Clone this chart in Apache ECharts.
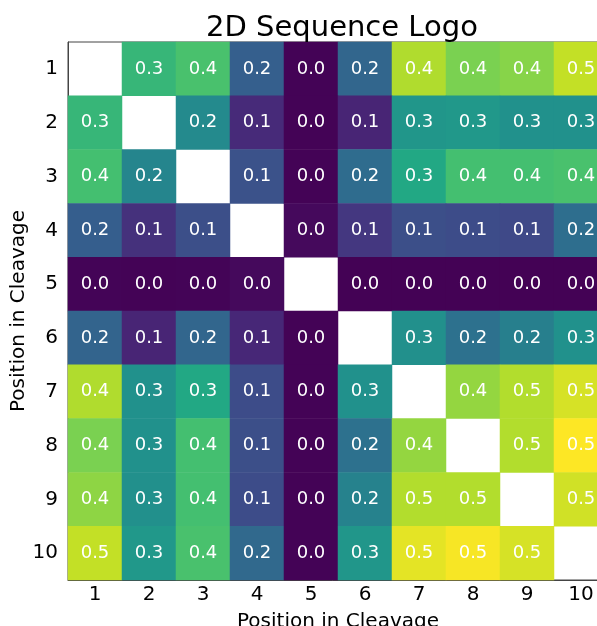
<!DOCTYPE html>
<html>
<head>
<meta charset="utf-8">
<script src="https://cdn.jsdelivr.net/npm/echarts@6/dist/echarts.min.js"></script>
<style>html,body{margin:0;padding:0;background:#fff;overflow:hidden;}#c{width:597px;height:626px;}</style>
</head>
<body>
<div id="c"></div>
<script>
const positions = ['1','2','3','4','5','6','7','8','9','10'];
// rows = y position (1..10), columns = x position (1..10); null = diagonal (empty)
const row1  = [null, 0.337, 0.362, 0.153, 0.003, 0.168, 0.449, 0.408, 0.418, 0.464];
const row2  = [0.337, null, 0.240, 0.061, 0.003, 0.052, 0.265, 0.270, 0.255, 0.255];
const row3  = [0.357, 0.230, null, 0.128, 0.003, 0.179, 0.306, 0.357, 0.357, 0.362];
const row4  = [0.152, 0.071, 0.122, null, 0.012, 0.082, 0.122, 0.117, 0.112, 0.184];
const row5  = [0.004, 0.003, 0.004, 0.012, null, 0.002, 0.001, 0.001, 0.001, 0.001];
const row6  = [0.163, 0.052, 0.168, 0.056, 0.003, null, 0.252, 0.189, 0.219, 0.255];
const row7  = [0.449, 0.255, 0.306, 0.117, 0.003, 0.255, null, 0.428, 0.451, 0.479];
const row8  = [0.408, 0.255, 0.357, 0.122, 0.003, 0.189, 0.428, null, 0.451, 0.510];
const row9  = [0.423, 0.252, 0.357, 0.117, 0.003, 0.224, 0.451, 0.451, null, 0.474];
const row10 = [0.464, 0.270, 0.362, 0.173, 0.003, 0.265, 0.490, 0.505, 0.479, null];
const rows = [row1,row2,row3,row4,row5,row6,row7,row8,row9,row10];

const viridis = ['#440154','#482475','#414487','#355f8d','#2a788e','#21918c','#22a884','#44bf70','#7ad151','#bddf26','#fde725'];

const data = [];
rows.forEach((r, yi) => r.forEach((v, xi) => { if (v !== null) data.push([xi, yi, v]); }));

const font = 'DejaVu Sans';
const chart = echarts.init(document.getElementById('c'));
chart.setOption({
  backgroundColor: '#fff',
  animation: false,
  title: {
    text: '2D Sequence Logo',
    left: 337, top: 9, textAlign: 'center',
    textStyle: { fontFamily: font, fontSize: 29, fontWeight: 'normal', color: '#000' }
  },
  grid: { left: 68, top: 42, width: 540, height: 538, outerBoundsMode: 'none', containLabel: false,
          show: true, borderColor: '#444', borderWidth: 1, backgroundColor: '#fff' },
  xAxis: {
    type: 'category', data: positions,
    name: 'Position in Cleavage', nameLocation: 'middle', nameGap: 32, nameMoveOverlap: false,
    nameTextStyle: { fontFamily: font, fontSize: 20, color: '#000' },
    axisLine: { lineStyle: { color: '#444' } },
    axisTick: { alignWithLabel: true, length: 5, lineStyle: { color: '#333' } },
    axisLabel: { fontFamily: font, fontSize: 20, color: '#000', margin: 5 },
    splitLine: { show: false }
  },
  yAxis: {
    type: 'category', data: positions, inverse: true,
    name: 'Position in Cleavage', nameLocation: 'middle', nameGap: 39, nameRotate: 90, nameMoveOverlap: false,
    nameTextStyle: { fontFamily: font, fontSize: 20, color: '#000' },
    axisLine: { lineStyle: { color: '#444' } },
    axisTick: { alignWithLabel: true, length: 5, lineStyle: { color: '#333' } },
    axisLabel: { fontFamily: font, fontSize: 20, color: '#000', margin: 10 },
    splitLine: { show: false }
  },
  visualMap: { show: false, min: 0, max: 0.51, dimension: 2, inRange: { color: viridis } },
  series: [{
    type: 'heatmap', data: data,
    label: {
      show: true, fontFamily: font, fontSize: 18, color: '#fff',
      formatter: p => p.value[2].toFixed(1)
    },
    itemStyle: { borderWidth: 0 },
    emphasis: { disabled: true }
  }]
});
</script>
</body>
</html>
